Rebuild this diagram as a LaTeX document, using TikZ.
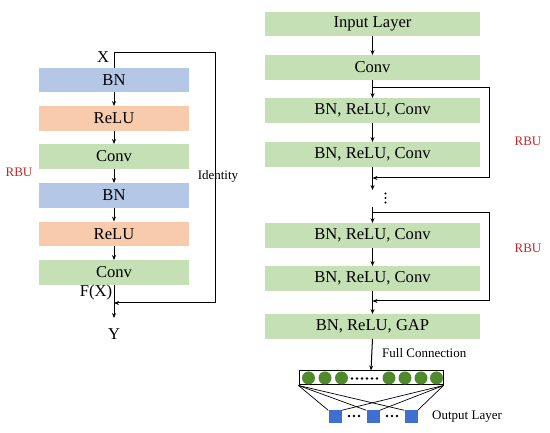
\documentclass[tikz,border=0pt]{standalone}
\usepackage{fontspec}
\setmainfont{Liberation Serif}
\usetikzlibrary{arrows.meta}
\definecolor{bnblue}{HTML}{B4C7E7}
\definecolor{reluorange}{HTML}{F8CBAD}
\definecolor{convgreen}{HTML}{C5E0B4}
\definecolor{rbured}{HTML}{C0282D}
\definecolor{neurongreen}{HTML}{4F8A2B}
\definecolor{outblue}{HTML}{3F6FD0}
\tikzset{
  lbox/.style={rectangle, minimum width=150pt, minimum height=24.5pt, inner sep=0pt, font=\fontsize{16.6}{18}\selectfont},
  rbox/.style={rectangle, minimum width=215pt, minimum height=24.5pt, inner sep=0pt, fill=convgreen, font=\fontsize{16.6}{18}\selectfont},
  bigtxt/.style={inner sep=0pt, font=\fontsize{16.6}{18}\selectfont},
  smalltxt/.style={inner sep=0pt, font=\fontsize{13}{15}\selectfont},
  rbulabel/.style={smalltxt, text=rbured},
  arr/.style={line width=1pt, -{Stealth[length=5pt,width=4pt]}},
  ln/.style={line width=1pt},
  neuron/.style={circle, fill=neurongreen, minimum size=13pt, inner sep=0pt},
  outnode/.style={rectangle, fill=outblue, minimum size=13pt, inner sep=0pt},
  smalldot/.style={circle, fill=black, minimum size=2.6pt, inner sep=0pt},
}
\begin{document}
\begin{tikzpicture}[x=1pt, y=-1pt]
\useasboundingbox (0,0) rectangle (550,433);
% ---------------- left: residual block ----------------
\node[lbox, fill=bnblue] (lbn1) at (114,80) {BN};
\node[lbox, fill=reluorange] (lrelu1) at (114,118.5) {ReLU};
\node[lbox, fill=convgreen] (lconv1) at (114,156.5) {Conv};
\node[lbox, fill=bnblue] (lbn2) at (114,195.5) {BN};
\node[lbox, fill=reluorange] (lrelu2) at (114,234) {ReLU};
\node[lbox, fill=convgreen] (lconv2) at (114,272.5) {Conv};
\node[bigtxt] (xlab) at (103,57) {X};
\node[bigtxt] (fxlab) at (96,293) {F(X)};
\node[bigtxt] (ylab) at (114,334) {Y};
\node[rbulabel] (rbul) at (19,172) {RBU};
\coordinate (ltop) at (114,53);
\coordinate (ltr) at (215,53);
\coordinate (lbr) at (215,303);
\coordinate (ljoin) at (114,303);
\coordinate (lend) at (114,318);
\draw[arr] (lbn1) -- (lrelu1);
\draw[arr] (lrelu1) -- (lconv1);
\draw[arr] (lconv1) -- (lbn2);
\draw[arr] (lbn2) -- (lrelu2);
\draw[arr] (lrelu2) -- (lconv2);
\draw[ln] (lbn1.north) -- (ltop) -- (ltr) -- (lbr);
\draw[arr] (lbr) -- (ljoin);
\draw[arr] (lconv2.south) -- (lend);
\node[smalltxt] (ident) at (218,176) {Identity};
% ---------------- right: network ----------------
\node[rbox] (input) at (372.5,24) {Input Layer};
\node[rbox] (rconv) at (372.5,67.5) {Conv};
\node[rbox] (b1) at (372.5,110.5) {BN, ReLU, Conv};
\node[rbox] (b2) at (372.5,154.5) {BN, ReLU, Conv};
\node[rbox] (b3) at (372.5,235.5) {BN, ReLU, Conv};
\node[rbox] (b4) at (372.5,278.5) {BN, ReLU, Conv};
\node[rbox] (gap) at (372.5,326.5) {BN, ReLU, GAP};
\node[rbulabel] (rbu1) at (528,141) {RBU};
\node[rbulabel] (rbu2) at (528,248) {RBU};
\node[smalldot, minimum size=2.4pt] (d1) at (385.5,193.5) {};
\node[smalldot, minimum size=2.4pt] (d2) at (385.5,198) {};
\node[smalldot, minimum size=2.4pt] (d3) at (385.5,202.5) {};
\coordinate (s1a) at (372.5,88);
\coordinate (s1b) at (489,88);
\coordinate (s1c) at (489,178);
\coordinate (s1d) at (372.5,178);
\coordinate (c1end) at (372.5,190);
\coordinate (c2start) at (372.5,207);
\coordinate (s2a) at (372.5,213);
\coordinate (s2b) at (489,213);
\coordinate (s2c) at (489,301);
\coordinate (s2d) at (372.5,301);
\draw[arr] (input) -- (rconv);
\draw[arr] (rconv) -- (b1);
\draw[ln] (s1a) -- (s1b) -- (s1c);
\draw[arr] (s1c) -- (s1d);
\draw[arr] (b1) -- (b2);
\draw[arr] (b2.south) -- (c1end);
\draw[arr] (c2start) -- (b3.north);
\draw[ln] (s2a) -- (s2b) -- (s2c);
\draw[arr] (s2c) -- (s2d);
\draw[arr] (b3) -- (b4);
\draw[arr] (b4) -- (gap);
% ---------------- fully connected ----------------
\node[draw, line width=1pt, minimum width=144pt, minimum height=14pt, inner sep=0pt] (layer) at (371,378) {};
\draw[arr] (gap.south) -- (layer.north);
\node[smalltxt, anchor=west] (fc) at (382,353) {Full Connection};
\node[neuron] (n1) at (308.5,378) {};
\node[neuron] (n2) at (325,378) {};
\node[neuron] (n3) at (341.5,378) {};
\node[neuron] (n4) at (389,378) {};
\node[neuron] (n5) at (405,378) {};
\node[neuron] (n6) at (421,378) {};
\node[neuron] (n7) at (436.5,378) {};
\foreach \i/\xx in {1/352,2/357,3/362,4/367,5/372,6/377}{
  \node[smalldot] (fd\i) at (\xx,378.5) {};
}
\node[outnode] (o1) at (335,417) {};
\node[outnode] (o2) at (373,417) {};
\node[outnode] (o3) at (411,417) {};
\foreach \i/\xx in {1/349,2/354,3/359,4/387,5/392,6/397}{
  \node[smalldot] (od\i) at (\xx,416) {};
}
\draw[line width=0.7pt] (layer.south west) -- (o1.north west);
\draw[line width=0.7pt] (layer.south west) -- (o2.north west);
\draw[line width=0.7pt] (layer.south west) -- (o3.north west);
\draw[line width=0.7pt] (layer.south east) -- (o3.north east);
\draw[line width=0.7pt] (layer.south east) -- (o2.north east);
\draw[line width=0.7pt] (layer.south east) -- (o1.north east);
\node[smalltxt, anchor=west] (outl) at (432,417) {Output Layer};
\end{tikzpicture}
\end{document}
